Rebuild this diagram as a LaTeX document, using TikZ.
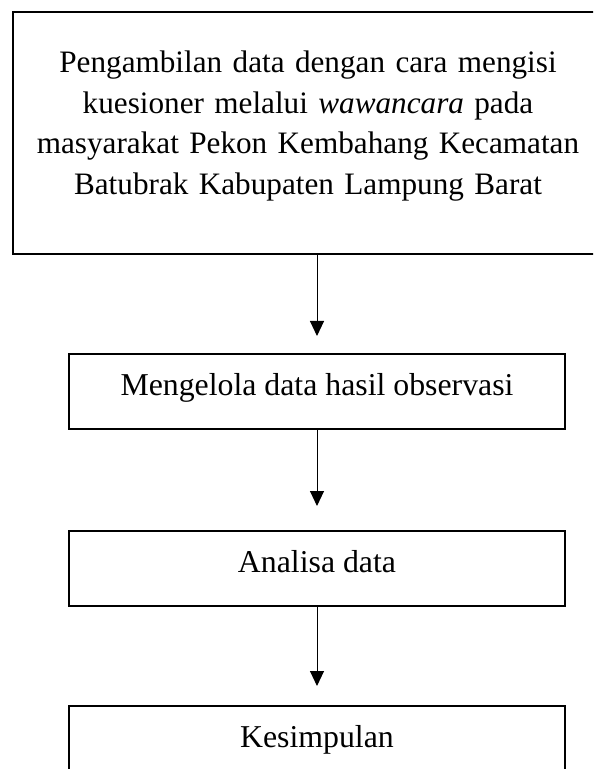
\documentclass[tikz,border=0pt]{standalone}
\usepackage{fontspec}
\setmainfont{Liberation Serif}
\usetikzlibrary{positioning,arrows.meta}

\begin{document}
\begin{tikzpicture}[
	node distance=49pt and 1cm,
	every node/.style={font=\fontsize{15.9pt}{20.2pt}\selectfont},
	mynode/.style={draw,line width=1pt,minimum width=248pt,minimum height=37.5pt,text height=11pt,text depth=7pt,inner sep=0pt},
	myarrow/.style={line width=0.5pt,-{Triangle[width=7pt,length=7.5pt]}}
	]
	\useasboundingbox (0,0) rectangle (296.5pt,-384.5pt);
	\clip (0,0) rectangle (296.5pt,-384.5pt);
	\node[draw,line width=1pt,minimum width=295pt,minimum height=121pt,text width=290pt,align=center,text height=11pt,text depth=71pt,inner sep=0pt,font=\fontsize{15.6pt}{20.2pt}\selectfont] (pengambilan) at (154pt,-66.5pt)
	{Pengambilan data dengan cara mengisi\\ kuesioner melalui \textit{wawancara} pada\\ masyarakat Pekon Kembahang Kecamatan\\ Batubrak Kabupaten Lampung Barat};
	\node[mynode, below = of pengambilan, xshift=4.5pt] (mengelola) {Mengelola data hasil observasi};
	\node[mynode, below = 50pt of mengelola] (analisa) {Analisa data};
	\node[mynode, below = of analisa] (kesimpulan) {Kesimpulan};
	\path [myarrow]
	(mengelola.north |- pengambilan.south) edge[shorten >=8.5pt] (mengelola)
	(mengelola) edge[shorten >=12pt] (analisa)
	(analisa) edge[shorten >=9.5pt] (kesimpulan);
\end{tikzpicture}
\end{document}
